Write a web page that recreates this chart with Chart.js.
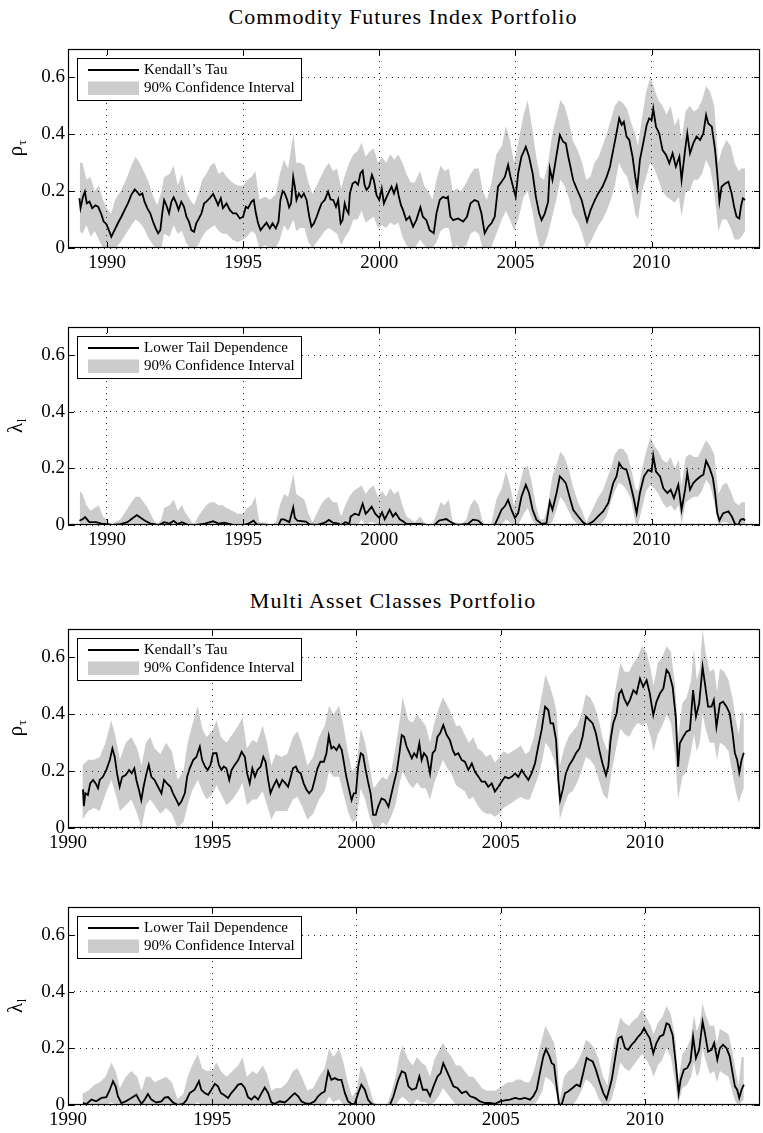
<!DOCTYPE html>
<html>
<head>
<meta charset="utf-8">
<script src="https://cdn.jsdelivr.net/npm/chart.js@4.4.1/dist/chart.umd.min.js"></script>
<style>
  html, body { margin: 0; padding: 0; background: #fff; }
  #page { position: relative; width: 763px; height: 1133px; overflow: hidden; background: #fff; }
  .title { position: absolute; width: 400px; text-align: center; font-family: "Liberation Serif", serif;
           font-size: 22px; line-height: 22px; letter-spacing: 1px; color: #000; white-space: nowrap; }
  canvas { position: absolute; left: 0; }
</style>
</head>
<body>
<div id="page">
  <div class="title" style="left:203px; top:6px;">Commodity Futures Index Portfolio</div>
  <div class="title" style="left:193px; top:590px;">Multi Asset Classes Portfolio</div>
  <canvas id="cfiTauChart"></canvas>
  <canvas id="cfiLtdChart"></canvas>
  <canvas id="macTauChart"></canvas>
  <canvas id="macLtdChart"></canvas>
</div>
<script>
// ---------- tick values ----------
const yearTicks = [1990, 1995, 2000, 2005, 2010];
const valueTicks = [0, 0.2, 0.4, 0.6];

// ---------- Commodity Futures Index portfolio: Kendall's tau ----------
const cfiTauYears = [
  1988.99,1989.03,1989.12,1989.19,1989.26,1989.36,1989.46,1989.58,1989.68,1989.79,
  1989.88,1989.98,1990.07,1990.16,1990.28,1990.4,1990.53,1990.65,1990.77,1990.89,
  1991.02,1991.1,1991.2,1991.3,1991.38,1991.48,1991.59,1991.69,1991.79,1991.88,
  1991.96,1992.03,1992.1,1992.18,1992.28,1992.37,1992.45,1992.55,1992.63,1992.73,
  1992.83,1992.92,1993.01,1993.1,1993.2,1993.28,1993.38,1993.47,1993.57,1993.65,
  1993.77,1993.9,1994.0,1994.08,1994.18,1994.26,1994.39,1994.51,1994.63,1994.75,
  1994.88,1995.0,1995.1,1995.18,1995.31,1995.39,1995.47,1995.55,1995.64,1995.74,
  1995.86,1995.98,1996.08,1996.2,1996.3,1996.37,1996.45,1996.53,1996.62,1996.69,
  1996.76,1996.84,1996.9,1996.96,1997.05,1997.14,1997.23,1997.33,1997.43,1997.51,
  1997.6,1997.7,1997.79,1997.88,1998.0,1998.12,1998.21,1998.31,1998.41,1998.49,
  1998.58,1998.65,1998.73,1998.8,1998.87,1998.92,1999.02,1999.12,1999.22,1999.31,
  1999.39,1999.46,1999.53,1999.63,1999.73,1999.8,1999.9,2000.0,2000.09,2000.17,
  2000.27,2000.37,2000.45,2000.54,2000.64,2000.72,2000.8,2000.87,2000.99,2001.11,
  2001.24,2001.36,2001.51,2001.6,2001.73,2001.85,2002.0,2002.1,2002.22,2002.34,
  2002.46,2002.52,2002.61,2002.71,2002.89,2003.08,2003.22,2003.35,2003.5,2003.63,
  2003.75,2003.87,2004.0,2004.12,2004.24,2004.36,2004.49,2004.61,2004.73,2004.82,
  2004.91,2005.01,2005.1,2005.22,2005.38,2005.5,2005.63,2005.75,2005.87,2005.96,
  2006.08,2006.2,2006.26,2006.36,2006.48,2006.63,2006.75,2006.85,2006.94,2007.02,
  2007.12,2007.27,2007.43,2007.55,2007.63,2007.76,2007.92,2008.04,2008.2,2008.35,
  2008.47,2008.59,2008.71,2008.81,2008.9,2008.98,2009.08,2009.18,2009.3,2009.4,
  2009.47,2009.57,2009.69,2009.82,2009.91,2010.0,2010.06,2010.16,2010.28,2010.4,
  2010.53,2010.65,2010.77,2010.89,2011.02,2011.1,2011.23,2011.31,2011.41,2011.53,
  2011.65,2011.78,2011.9,2012.0,2012.08,2012.21,2012.33,2012.41,2012.49,2012.57,
  2012.7,2012.82,2012.94,2013.03,2013.12,2013.22,2013.28,2013.35,2013.43
];
const cfiTau = [
  0.175,0.14,0.18,0.198,0.157,0.163,0.14,0.15,0.145,0.12,
  0.093,0.084,0.063,0.04,0.063,0.087,0.11,0.134,0.157,0.186,
  0.206,0.198,0.186,0.192,0.163,0.14,0.122,0.093,0.069,0.052,
  0.063,0.122,0.169,0.151,0.122,0.163,0.178,0.157,0.134,0.163,
  0.145,0.11,0.093,0.063,0.057,0.087,0.104,0.122,0.157,0.163,
  0.175,0.19,0.169,0.151,0.175,0.14,0.157,0.134,0.122,0.122,
  0.104,0.11,0.145,0.14,0.163,0.169,0.122,0.087,0.063,0.075,
  0.089,0.069,0.087,0.069,0.093,0.169,0.2,0.192,0.169,0.143,
  0.157,0.25,0.216,0.169,0.192,0.178,0.192,0.169,0.11,0.075,
  0.087,0.11,0.134,0.157,0.169,0.198,0.171,0.169,0.145,0.169,
  0.087,0.098,0.157,0.134,0.122,0.192,0.227,0.233,0.222,0.263,
  0.272,0.222,0.204,0.216,0.257,0.239,0.186,0.169,0.21,0.157,
  0.18,0.2,0.216,0.192,0.22,0.18,0.15,0.134,0.098,0.11,
  0.075,0.098,0.143,0.11,0.098,0.063,0.052,0.122,0.169,0.18,
  0.175,0.18,0.11,0.098,0.104,0.093,0.11,0.157,0.169,0.163,
  0.122,0.052,0.075,0.087,0.11,0.216,0.233,0.25,0.292,0.25,
  0.216,0.18,0.263,0.321,0.356,0.321,0.263,0.18,0.122,0.098,
  0.122,0.163,0.28,0.239,0.31,0.397,0.374,0.368,0.321,0.286,
  0.239,0.204,0.169,0.122,0.093,0.134,0.169,0.192,0.216,0.25,
  0.286,0.345,0.403,0.456,0.433,0.444,0.392,0.38,0.321,0.25,
  0.21,0.31,0.368,0.433,0.456,0.45,0.491,0.427,0.403,0.345,
  0.327,0.298,0.333,0.286,0.321,0.239,0.345,0.403,0.333,0.368,
  0.392,0.38,0.403,0.468,0.438,0.427,0.345,0.263,0.163,0.216,
  0.227,0.233,0.192,0.145,0.11,0.104,0.145,0.175,0.169
];

// ---------- Commodity Futures Index portfolio: lower tail dependence ----------
const cfiLtdYears = [
  1988.99,1989.1,1989.2,1989.35,1989.6,1989.8,1990.0,1990.2,1990.5,1990.75,
  1990.95,1991.1,1991.25,1991.4,1991.6,1991.9,1992.1,1992.3,1992.45,1992.6,
  1992.75,1993.0,1993.3,1993.6,1993.9,1994.1,1994.3,1994.6,1995.0,1995.2,
  1995.38,1995.5,1995.8,1996.3,1996.4,1996.5,1996.7,1996.84,1996.9,1997.0,
  1997.3,1997.45,1997.7,1998.0,1998.15,1998.3,1998.5,1998.6,1998.75,1998.9,
  1998.95,1999.1,1999.25,1999.39,1999.5,1999.6,1999.72,1999.85,2000.0,2000.1,
  2000.2,2000.38,2000.5,2000.6,2000.75,2000.87,2001.0,2001.5,2001.73,2002.03,
  2002.2,2002.46,2002.58,2002.83,2003.26,2003.44,2003.63,2003.81,2004.24,2004.36,
  2004.49,2004.61,2004.73,2004.85,2004.98,2005.1,2005.22,2005.38,2005.5,2005.63,
  2005.77,2005.96,2006.14,2006.26,2006.36,2006.51,2006.63,2006.75,2006.85,2007.0,
  2007.12,2007.3,2007.49,2007.63,2007.86,2008.04,2008.22,2008.41,2008.59,2008.71,
  2008.81,2008.93,2009.08,2009.18,2009.33,2009.45,2009.57,2009.72,2009.88,2010.0,
  2010.06,2010.16,2010.31,2010.43,2010.58,2010.7,2010.82,2010.98,2011.1,2011.23,
  2011.31,2011.41,2011.53,2011.65,2011.8,2011.9,2012.0,2012.13,2012.25,2012.33,
  2012.41,2012.49,2012.63,2012.82,2012.94,2013.06,2013.18,2013.27,2013.37,2013.43
];
const cfiLtd = [
  0.015,0.02,0.028,0.01,0.01,0.005,0.003,0,0.003,0.01,
  0.025,0.035,0.025,0.015,0.005,0,0.01,0.005,0.015,0.003,
  0.01,0,0,0.005,0.013,0.005,0.008,0.001,0,0.005,
  0.015,0.002,0,0,0.02,0.02,0.01,0.062,0.025,0.015,
  0.012,0.002,0,0.008,0.018,0.008,0.005,0,0.01,0.005,
  0.03,0.04,0.035,0.075,0.04,0.05,0.065,0.04,0.025,0.045,
  0.02,0.054,0.03,0.042,0.02,0.013,0.004,0.004,0,0,
  0.016,0.021,0.013,0,0.004,0.019,0.016,0,0,0.025,
  0.054,0.066,0.089,0.054,0.025,0.042,0.1,0.142,0.113,0.054,
  0.019,0.004,0.007,0.083,0.054,0.113,0.172,0.16,0.148,0.095,
  0.054,0.031,0.009,0,0.013,0.031,0.048,0.078,0.148,0.172,
  0.219,0.201,0.195,0.16,0.1,0.042,0.113,0.172,0.195,0.189,
  0.245,0.189,0.172,0.13,0.113,0.125,0.095,0.142,0.054,0.125,
  0.184,0.125,0.148,0.16,0.172,0.178,0.227,0.201,0.166,0.113,
  0.042,0.016,0.042,0.048,0.031,0.004,0,0.019,0.021,0.016
];

// ---------- Commodity Futures Index portfolio: 90% confidence bands ----------
const cfiBandYears = [
  1989.0,1989.1,1989.25,1989.4,1989.55,1989.7,1989.85,1990.0,1990.15,1990.3,
  1990.5,1990.7,1990.9,1991.05,1991.2,1991.35,1991.5,1991.7,1991.85,1992.0,
  1992.1,1992.3,1992.45,1992.6,1992.75,1992.9,1993.05,1993.2,1993.35,1993.5,
  1993.65,1993.8,1993.95,1994.1,1994.25,1994.4,1994.6,1994.8,1995.0,1995.15,
  1995.3,1995.45,1995.6,1995.8,1996.0,1996.2,1996.35,1996.5,1996.65,1996.85,
  1996.95,1997.1,1997.25,1997.4,1997.55,1997.7,1997.85,1998.0,1998.15,1998.3,
  1998.45,1998.6,1998.75,1998.9,1999.05,1999.2,1999.35,1999.5,1999.65,1999.8,
  1999.95,2000.1,2000.25,2000.4,2000.55,2000.7,2000.85,2001.0,2001.15,2001.3,
  2001.5,2001.65,2001.8,2001.95,2002.1,2002.25,2002.4,2002.55,2002.7,2002.85,
  2003.0,2003.2,2003.35,2003.5,2003.65,2003.8,2003.95,2004.1,2004.3,2004.5,
  2004.65,2004.8,2004.95,2005.1,2005.3,2005.45,2005.6,2005.75,2005.9,2006.05,
  2006.2,2006.35,2006.5,2006.65,2006.8,2006.95,2007.1,2007.3,2007.45,2007.6,
  2007.75,2007.9,2008.05,2008.2,2008.35,2008.5,2008.65,2008.8,2008.95,2009.1,
  2009.25,2009.4,2009.5,2009.65,2009.8,2009.95,2010.1,2010.25,2010.4,2010.55,
  2010.7,2010.85,2011.0,2011.1,2011.25,2011.4,2011.55,2011.7,2011.85,2012.0,
  2012.15,2012.3,2012.45,2012.6,2012.75,2012.9,2013.05,2013.2,2013.3,2013.43
];
const cfiTauUpper = [
  0.30,0.30,0.24,0.25,0.20,0.22,0.17,0.14,0.12,0.17,
  0.20,0.24,0.29,0.32,0.30,0.27,0.24,0.18,0.15,0.20,
  0.25,0.26,0.29,0.22,0.26,0.20,0.17,0.15,0.19,0.24,
  0.26,0.29,0.30,0.26,0.27,0.25,0.23,0.22,0.22,0.24,
  0.25,0.27,0.17,0.18,0.17,0.19,0.26,0.31,0.28,0.40,
  0.30,0.30,0.29,0.23,0.19,0.22,0.25,0.28,0.30,0.27,
  0.28,0.21,0.26,0.30,0.33,0.34,0.37,0.32,0.34,0.35,
  0.30,0.32,0.30,0.33,0.31,0.33,0.30,0.26,0.23,0.23,
  0.27,0.22,0.20,0.17,0.24,0.29,0.27,0.28,0.20,0.21,
  0.20,0.23,0.26,0.28,0.28,0.20,0.17,0.22,0.33,0.36,
  0.43,0.38,0.30,0.37,0.47,0.52,0.43,0.33,0.25,0.24,
  0.30,0.40,0.46,0.52,0.50,0.45,0.38,0.34,0.30,0.24,
  0.25,0.30,0.32,0.36,0.40,0.45,0.50,0.52,0.51,0.49,
  0.44,0.40,0.36,0.46,0.55,0.60,0.56,0.52,0.50,0.47,
  0.50,0.43,0.46,0.38,0.48,0.50,0.48,0.49,0.52,0.57,
  0.55,0.50,0.30,0.35,0.38,0.36,0.30,0.27,0.28,0.28
];
const cfiTauLower = [
  0.06,0.05,0.08,0.04,0.06,0.03,0.00,0.00,0.00,0.00,
  0.02,0.05,0.08,0.10,0.09,0.07,0.04,0.01,0.00,0.00,
  0.05,0.04,0.08,0.05,0.06,0.02,0.00,0.00,0.01,0.04,
  0.06,0.07,0.08,0.06,0.05,0.05,0.03,0.02,0.03,0.04,
  0.06,0.05,0.00,0.01,0.00,0.00,0.03,0.08,0.06,0.10,
  0.06,0.07,0.07,0.02,0.00,0.02,0.04,0.06,0.07,0.06,
  0.05,0.01,0.04,0.06,0.10,0.10,0.13,0.09,0.10,0.11,
  0.07,0.08,0.07,0.09,0.08,0.09,0.04,0.01,0.00,0.00,
  0.03,0.01,0.00,0.00,0.02,0.06,0.07,0.07,0.00,0.01,
  0.00,0.01,0.05,0.06,0.05,0.00,0.00,0.00,0.05,0.10,
  0.13,0.10,0.06,0.10,0.18,0.20,0.14,0.06,0.00,0.01,
  0.05,0.11,0.17,0.24,0.22,0.18,0.12,0.09,0.05,0.00,
  0.02,0.05,0.08,0.10,0.13,0.17,0.22,0.30,0.27,0.25,
  0.20,0.12,0.10,0.20,0.25,0.30,0.28,0.24,0.20,0.18,
  0.17,0.16,0.18,0.11,0.20,0.20,0.24,0.24,0.26,0.31,
  0.28,0.20,0.06,0.10,0.10,0.07,0.03,0.03,0.04,0.06
];
const cfiLtdUpper = [
  0.12,0.11,0.07,0.05,0.06,0.07,0.03,0.02,0.00,0.01,
  0.02,0.05,0.08,0.10,0.10,0.08,0.06,0.02,0.00,0.02,
  0.06,0.07,0.09,0.05,0.07,0.04,0.02,0.00,0.03,0.05,
  0.07,0.08,0.08,0.07,0.07,0.06,0.05,0.04,0.04,0.06,
  0.07,0.10,0.01,0.01,0.00,0.01,0.07,0.11,0.10,0.18,
  0.11,0.10,0.09,0.04,0.01,0.04,0.07,0.09,0.10,0.08,
  0.08,0.03,0.07,0.10,0.12,0.13,0.14,0.11,0.13,0.14,
  0.10,0.12,0.10,0.13,0.11,0.12,0.07,0.03,0.02,0.01,
  0.03,0.01,0.00,0.00,0.04,0.08,0.07,0.09,0.01,0.01,
  0.00,0.02,0.07,0.09,0.07,0.01,0.00,0.00,0.09,0.13,
  0.19,0.14,0.07,0.12,0.20,0.21,0.15,0.07,0.02,0.02,
  0.07,0.17,0.21,0.26,0.24,0.20,0.14,0.08,0.05,0.01,
  0.04,0.07,0.10,0.12,0.16,0.20,0.25,0.27,0.27,0.25,
  0.20,0.13,0.12,0.20,0.26,0.31,0.28,0.26,0.23,0.22,
  0.24,0.20,0.23,0.14,0.24,0.25,0.24,0.24,0.27,0.30,
  0.28,0.25,0.11,0.14,0.15,0.12,0.08,0.07,0.08,0.08
];
const cfiLtdLower = [
  0,0,0,0,0,0,0,0,0,0,
  0,0,0,0,0,0,0,0,0,0,
  0,0,0,0,0,0,0,0,0,0,
  0,0,0,0,0,0,0,0,0,0,
  0,0,0,0,0,0,0,0,0,0,
  0,0,0,0,0,0,0,0,0,0,
  0,0,0,0,0,0,0.02,0,0.01,0.01,
  0,0,0,0,0,0,0,0,0,0,
  0,0,0,0,0,0,0,0,0,0,
  0,0,0,0,0,0,0,0,0,0,
  0.02,0.01,0,0,0.04,0.06,0.02,0,0,0,
  0,0.01,0.05,0.10,0.08,0.05,0.02,0,0,0,
  0,0,0,0.01,0.03,0.08,0.12,0.15,0.14,0.12,
  0.09,0.01,0,0.06,0.12,0.14,0.13,0.11,0.08,0.06,
  0.07,0.05,0.07,0,0.08,0.09,0.10,0.10,0.12,0.16,
  0.14,0.08,0,0.01,0.01,0,0,0,0,0
];

// ---------- Multi Asset Classes portfolio: Kendall's tau ----------
const macTauYears = [
  1990.52,1990.55,1990.6,1990.69,1990.77,1990.87,1990.96,1991.04,1991.1,1991.21,
  1991.33,1991.45,1991.54,1991.62,1991.7,1991.79,1991.88,1992.0,1992.12,1992.21,
  1992.3,1992.37,1992.46,1992.54,1992.62,1992.72,1992.8,1992.89,1993.0,1993.12,
  1993.24,1993.33,1993.43,1993.55,1993.64,1993.76,1993.84,1993.93,1994.05,1994.13,
  1994.22,1994.34,1994.45,1994.57,1994.65,1994.75,1994.84,1994.94,1995.03,1995.15,
  1995.23,1995.32,1995.4,1995.49,1995.59,1995.67,1995.78,1995.9,1996.02,1996.13,
  1996.21,1996.3,1996.39,1996.48,1996.57,1996.68,1996.77,1996.85,1996.94,1997.02,
  1997.11,1997.23,1997.32,1997.43,1997.54,1997.63,1997.71,1997.8,1997.9,1997.98,
  1998.07,1998.17,1998.27,1998.36,1998.46,1998.55,1998.65,1998.75,1998.87,1998.96,
  1999.04,1999.13,1999.21,1999.31,1999.4,1999.49,1999.57,1999.65,1999.75,1999.83,
  1999.91,1999.98,2000.06,2000.15,2000.23,2000.32,2000.4,2000.49,2000.58,2000.67,
  2000.75,2000.87,2000.99,2001.11,2001.19,2001.28,2001.4,2001.49,2001.57,2001.65,
  2001.74,2001.84,2001.92,2002.0,2002.09,2002.18,2002.26,2002.34,2002.44,2002.55,
  2002.64,2002.73,2002.81,2002.9,2003.01,2003.13,2003.24,2003.34,2003.42,2003.53,
  2003.65,2003.76,2003.88,2004.0,2004.11,2004.23,2004.34,2004.46,2004.57,2004.69,
  2004.8,2004.92,2005.03,2005.15,2005.27,2005.38,2005.5,2005.61,2005.73,2005.84,
  2005.96,2006.07,2006.19,2006.3,2006.42,2006.54,2006.65,2006.73,2006.82,2006.92,
  2007.0,2007.06,2007.15,2007.26,2007.38,2007.49,2007.61,2007.73,2007.84,2007.96,
  2008.07,2008.19,2008.3,2008.42,2008.53,2008.65,2008.73,2008.81,2008.9,2009.02,
  2009.11,2009.19,2009.28,2009.39,2009.48,2009.6,2009.71,2009.83,2009.94,2010.06,
  2010.17,2010.29,2010.4,2010.52,2010.64,2010.75,2010.84,2010.96,2011.07,2011.15,
  2011.21,2011.33,2011.44,2011.56,2011.67,2011.77,2011.88,2012.0,2012.08,2012.19,
  2012.31,2012.39,2012.48,2012.6,2012.71,2012.83,2012.94,2013.04,2013.12,2013.2,
  2013.27,2013.35,2013.43
];
const macTau = [
  0.136,0.077,0.122,0.116,0.157,0.169,0.157,0.14,0.169,0.18,
  0.204,0.239,0.28,0.25,0.192,0.145,0.18,0.186,0.204,0.192,
  0.21,0.169,0.134,0.098,0.145,0.192,0.222,0.18,0.169,0.145,
  0.122,0.169,0.157,0.145,0.122,0.098,0.081,0.093,0.122,0.18,
  0.21,0.239,0.25,0.286,0.239,0.216,0.204,0.222,0.263,0.263,
  0.222,0.204,0.216,0.21,0.169,0.204,0.222,0.239,0.268,0.25,
  0.192,0.157,0.21,0.18,0.204,0.216,0.25,0.233,0.169,0.122,
  0.145,0.169,0.145,0.169,0.157,0.145,0.175,0.21,0.216,0.198,
  0.192,0.157,0.134,0.122,0.134,0.169,0.21,0.233,0.233,0.263,
  0.324,0.28,0.286,0.274,0.292,0.274,0.227,0.18,0.134,0.098,
  0.122,0.122,0.216,0.263,0.257,0.204,0.163,0.122,0.046,0.046,
  0.075,0.104,0.098,0.075,0.11,0.15,0.2,0.263,0.327,0.321,
  0.286,0.263,0.245,0.263,0.25,0.298,0.239,0.263,0.25,0.192,
  0.263,0.274,0.321,0.333,0.362,0.327,0.309,0.274,0.257,0.263,
  0.239,0.233,0.204,0.227,0.198,0.18,0.163,0.163,0.145,0.157,
  0.128,0.145,0.163,0.18,0.175,0.18,0.192,0.18,0.204,0.186,
  0.169,0.192,0.227,0.286,0.345,0.427,0.415,0.368,0.368,0.31,
  0.169,0.098,0.134,0.192,0.222,0.239,0.263,0.28,0.321,0.392,
  0.38,0.368,0.333,0.274,0.227,0.186,0.216,0.31,0.368,0.403,
  0.473,0.485,0.456,0.433,0.45,0.485,0.473,0.526,0.497,0.52,
  0.473,0.397,0.444,0.473,0.491,0.556,0.544,0.497,0.392,0.216,
  0.298,0.321,0.339,0.345,0.485,0.392,0.438,0.567,0.509,0.427,
  0.427,0.45,0.356,0.438,0.444,0.427,0.403,0.333,0.263,0.239,
  0.195,0.239,0.265
];

// ---------- Multi Asset Classes portfolio: lower tail dependence ----------
const macLtdYears = [
  1990.52,1990.65,1990.81,1990.98,1991.16,1991.33,1991.45,1991.56,1991.65,1991.73,
  1991.85,1992.0,1992.14,1992.25,1992.37,1992.46,1992.55,1992.66,1992.77,1992.89,
  1993.06,1993.24,1993.35,1993.47,1993.64,1993.82,1993.99,1994.1,1994.22,1994.39,
  1994.54,1994.62,1994.74,1994.86,1994.97,1995.09,1995.2,1995.3,1995.4,1995.55,
  1995.66,1995.78,1995.9,1996.01,1996.13,1996.24,1996.36,1996.47,1996.59,1996.71,
  1996.82,1996.94,1997.05,1997.17,1997.34,1997.51,1997.63,1997.75,1997.86,1997.98,
  1998.09,1998.21,1998.38,1998.55,1998.67,1998.79,1998.9,1999.02,1999.13,1999.25,
  1999.36,1999.48,1999.6,1999.71,1999.83,1999.94,2000.06,2000.17,2000.29,2000.4,
  2000.52,2000.64,2001.16,2001.28,2001.45,2001.57,2001.69,2001.8,2001.92,2002.07,
  2002.18,2002.3,2002.44,2002.55,2002.67,2002.81,2002.92,2003.01,2003.11,2003.24,
  2003.36,2003.5,2003.65,2003.8,2003.94,2004.11,2004.28,2004.46,2004.63,2004.8,
  2004.98,2005.15,2005.32,2005.5,2005.67,2005.84,2006.02,2006.13,2006.25,2006.36,
  2006.48,2006.57,2006.69,2006.77,2006.85,2006.94,2007.02,2007.11,2007.23,2007.34,
  2007.49,2007.63,2007.75,2007.86,2007.98,2008.07,2008.19,2008.3,2008.44,2008.56,
  2008.67,2008.76,2008.85,2008.96,2009.08,2009.19,2009.31,2009.42,2009.54,2009.65,
  2009.77,2009.88,2009.97,2010.06,2010.17,2010.29,2010.4,2010.52,2010.64,2010.75,
  2010.84,2010.96,2011.07,2011.17,2011.24,2011.35,2011.47,2011.58,2011.67,2011.77,
  2011.88,2012.0,2012.08,2012.19,2012.31,2012.4,2012.51,2012.6,2012.71,2012.83,
  2012.94,2013.04,2013.12,2013.2,2013.27,2013.35,2013.43
];
const macLtd = [
  0.007,0.004,0.019,0.013,0.025,0.028,0.054,0.084,0.066,0.031,
  0.007,0.013,0.021,0.028,0.036,0.019,0.004,0.019,0.039,0.019,
  0.009,0.013,0.026,0.028,0.009,0,0.004,0.016,0.042,0.054,
  0.084,0.054,0.042,0.036,0.054,0.075,0.066,0.042,0.036,0.025,
  0.042,0.056,0.072,0.075,0.06,0.028,0.019,0.031,0.019,0.042,
  0.062,0.042,0.009,0.004,0.013,0.009,0.019,0.031,0.042,0.031,
  0.013,0.007,0.004,0.013,0.031,0.042,0.048,0.118,0.089,0.095,
  0.089,0.089,0.042,0.013,0.004,0.004,0.042,0.072,0.054,0.019,
  0.004,0,0,0.03,0.089,0.119,0.113,0.066,0.054,0.06,
  0.101,0.054,0.054,0.031,0.066,0.101,0.113,0.148,0.125,0.095,
  0.066,0.06,0.042,0.048,0.031,0.025,0.013,0.007,0.007,0.004,
  0.013,0.016,0.019,0.025,0.021,0.025,0.019,0.031,0.054,0.113,
  0.172,0.198,0.172,0.148,0.142,0.066,0.004,0,0.042,0.048,
  0.06,0.072,0.066,0.113,0.166,0.16,0.154,0.125,0.078,0.042,
  0.021,0.054,0.089,0.16,0.236,0.242,0.201,0.195,0.213,0.225,
  0.242,0.254,0.272,0.254,0.236,0.183,0.219,0.242,0.248,0.289,
  0.284,0.248,0.148,0.042,0.089,0.125,0.131,0.154,0.242,0.166,
  0.195,0.295,0.254,0.189,0.195,0.219,0.16,0.201,0.213,0.201,
  0.172,0.113,0.066,0.054,0.025,0.054,0.072
];

// ---------- Multi Asset Classes portfolio: 90% confidence bands ----------
const macBandYears = [
  1990.5,1990.7,1990.9,1991.1,1991.3,1991.5,1991.65,1991.8,1992.0,1992.2,
  1992.4,1992.55,1992.7,1992.85,1993.0,1993.2,1993.4,1993.6,1993.8,1994.0,
  1994.15,1994.3,1994.5,1994.65,1994.8,1995.0,1995.15,1995.3,1995.5,1995.7,
  1995.9,1996.05,1996.2,1996.4,1996.55,1996.75,1996.9,1997.05,1997.2,1997.4,
  1997.6,1997.8,1997.95,1998.1,1998.3,1998.5,1998.7,1998.9,1999.05,1999.2,
  1999.4,1999.55,1999.7,1999.85,2000.0,2000.15,2000.3,2000.45,2000.6,2000.75,
  2000.9,2001.05,2001.2,2001.35,2001.5,2001.6,2001.8,2001.95,2002.1,2002.25,
  2002.4,2002.55,2002.7,2002.85,2003.0,2003.15,2003.3,2003.45,2003.6,2003.75,
  2003.9,2004.05,2004.2,2004.35,2004.5,2004.65,2004.8,2004.95,2005.1,2005.25,
  2005.4,2005.55,2005.7,2005.85,2006.0,2006.15,2006.3,2006.45,2006.55,2006.7,
  2006.85,2006.95,2007.05,2007.2,2007.35,2007.5,2007.65,2007.8,2007.95,2008.1,
  2008.25,2008.4,2008.55,2008.7,2008.85,2009.0,2009.15,2009.3,2009.45,2009.6,
  2009.75,2009.9,2010.05,2010.2,2010.3,2010.45,2010.6,2010.75,2010.9,2011.05,
  2011.15,2011.3,2011.45,2011.6,2011.7,2011.8,2011.9,2012.0,2012.1,2012.25,
  2012.4,2012.5,2012.6,2012.75,2012.9,2013.05,2013.15,2013.25,2013.35,2013.43
];
const macTauUpper = [
  0.22,0.24,0.24,0.25,0.30,0.38,0.32,0.24,0.30,0.32,
  0.28,0.22,0.30,0.32,0.28,0.26,0.30,0.27,0.17,0.20,
  0.30,0.36,0.43,0.35,0.32,0.34,0.38,0.32,0.30,0.33,
  0.36,0.39,0.28,0.31,0.30,0.36,0.30,0.22,0.26,0.25,
  0.26,0.32,0.34,0.30,0.22,0.25,0.32,0.36,0.43,0.40,
  0.43,0.36,0.27,0.20,0.22,0.35,0.30,0.22,0.14,0.16,
  0.18,0.17,0.20,0.28,0.38,0.46,0.38,0.37,0.40,0.38,
  0.36,0.30,0.37,0.42,0.46,0.43,0.40,0.36,0.36,0.33,
  0.30,0.32,0.28,0.27,0.25,0.26,0.23,0.25,0.27,0.26,
  0.27,0.28,0.29,0.26,0.27,0.32,0.40,0.48,0.54,0.50,
  0.45,0.40,0.22,0.28,0.32,0.34,0.36,0.40,0.47,0.46,
  0.43,0.38,0.31,0.27,0.41,0.50,0.58,0.55,0.55,0.58,
  0.60,0.64,0.62,0.56,0.50,0.58,0.60,0.64,0.62,0.50,
  0.32,0.44,0.46,0.52,0.63,0.52,0.56,0.70,0.62,0.55,
  0.56,0.48,0.56,0.55,0.52,0.45,0.38,0.33,0.41,0.40
];
const macTauLower = [
  0.03,0.06,0.07,0.06,0.12,0.17,0.12,0.06,0.08,0.10,
  0.05,0.00,0.08,0.10,0.08,0.05,0.07,0.05,0.00,0.02,
  0.08,0.13,0.17,0.13,0.10,0.12,0.15,0.12,0.08,0.10,
  0.13,0.16,0.08,0.10,0.10,0.13,0.08,0.03,0.06,0.06,
  0.06,0.10,0.11,0.08,0.03,0.05,0.10,0.13,0.20,0.18,
  0.18,0.12,0.06,0.02,0.03,0.14,0.10,0.04,0.00,0.00,
  0.02,0.01,0.04,0.08,0.16,0.20,0.16,0.14,0.16,0.14,
  0.14,0.10,0.16,0.20,0.24,0.21,0.19,0.15,0.14,0.13,
  0.10,0.11,0.08,0.06,0.05,0.05,0.04,0.05,0.07,0.08,
  0.09,0.10,0.11,0.10,0.10,0.14,0.18,0.24,0.30,0.28,
  0.24,0.20,0.03,0.08,0.12,0.13,0.16,0.20,0.25,0.24,
  0.22,0.17,0.12,0.10,0.20,0.28,0.35,0.33,0.32,0.35,
  0.37,0.36,0.37,0.32,0.27,0.33,0.36,0.40,0.37,0.25,
  0.10,0.18,0.20,0.27,0.33,0.27,0.30,0.40,0.35,0.30,
  0.30,0.24,0.30,0.29,0.27,0.18,0.13,0.09,0.12,0.14
];
const macLtdUpper = [
  0.04,0.05,0.07,0.08,0.10,0.15,0.12,0.06,0.10,0.12,
  0.10,0.05,0.10,0.10,0.08,0.09,0.10,0.08,0.02,0.04,
  0.10,0.14,0.18,0.13,0.12,0.12,0.15,0.12,0.10,0.12,
  0.14,0.17,0.10,0.12,0.11,0.14,0.11,0.05,0.06,0.06,
  0.08,0.12,0.13,0.10,0.05,0.06,0.10,0.13,0.20,0.17,
  0.20,0.15,0.08,0.03,0.05,0.14,0.11,0.06,0.01,0.00,
  0.00,0.00,0.04,0.10,0.18,0.21,0.16,0.14,0.17,0.15,
  0.14,0.10,0.16,0.19,0.22,0.19,0.17,0.14,0.14,0.12,
  0.10,0.10,0.08,0.06,0.05,0.05,0.05,0.06,0.07,0.08,
  0.08,0.09,0.09,0.08,0.08,0.12,0.18,0.24,0.28,0.25,
  0.22,0.16,0.02,0.10,0.12,0.13,0.15,0.18,0.23,0.22,
  0.20,0.16,0.10,0.07,0.18,0.25,0.31,0.29,0.28,0.30,
  0.31,0.34,0.31,0.28,0.25,0.29,0.31,0.35,0.32,0.24,
  0.08,0.18,0.20,0.24,0.32,0.26,0.29,0.36,0.32,0.28,
  0.28,0.22,0.27,0.26,0.25,0.18,0.12,0.07,0.17,0.17
];
const macLtdLower = [
  0,0,0,0,0,0.01,0,0,0,0,
  0,0,0,0,0,0,0,0,0,0,
  0,0,0.01,0,0,0,0,0,0,0,
  0,0,0,0,0,0,0,0,0,0,
  0,0,0,0,0,0,0,0,0.03,0.01,
  0.02,0,0,0,0,0,0,0,0,0,
  0,0,0,0,0.02,0.03,0.01,0,0.02,0.01,
  0.01,0,0.01,0.03,0.06,0.04,0.02,0,0,0,
  0,0,0,0,0,0,0,0,0,0,
  0,0,0,0,0,0,0.02,0.05,0.10,0.09,
  0.07,0.03,0,0,0,0,0.02,0.05,0.09,0.08,
  0.06,0.02,0,0,0.02,0.08,0.15,0.13,0.12,0.14,
  0.16,0.18,0.16,0.13,0.10,0.14,0.16,0.20,0.17,0.08,
  0,0.06,0.07,0.10,0.15,0.10,0.12,0.20,0.16,0.11,
  0.12,0.08,0.12,0.11,0.10,0.04,0.01,0,0.01,0.02
];

// ---------- drawing ----------
const BAND_GREY = '#cccccc';
const SERIF = '"Liberation Serif", "Times New Roman", serif';
const toPoints = (xs, ys) => xs.slice(0, Math.min(xs.length, ys.length)).map((x, i) => ({ x: x, y: ys[i] }));

// Box frame with inward ticks on all four sides, an inset legend and the rotated axis symbol.
const axesDecor = {
  id: 'axesDecor',
  afterDraw(chart, args, opts) {
    const { ctx, chartArea: a, scales: { x, y } } = chart;
    ctx.save();
    ctx.strokeStyle = '#000';
    ctx.lineWidth = 1;
    ctx.beginPath();
    x.ticks.forEach(t => {
      const px = Math.round(x.getPixelForValue(t.value)) + 0.5;
      ctx.moveTo(px, a.bottom); ctx.lineTo(px, a.bottom - 6);
      ctx.moveTo(px, a.top); ctx.lineTo(px, a.top + 6);
    });
    y.ticks.forEach(t => {
      const py = Math.round(y.getPixelForValue(t.value)) + 0.5;
      ctx.moveTo(a.left, py); ctx.lineTo(a.left + 6, py);
      ctx.moveTo(a.right, py); ctx.lineTo(a.right - 6, py);
    });
    ctx.stroke();
    ctx.lineWidth = 1.2;
    ctx.strokeRect(Math.round(a.left) + 0.5, Math.round(a.top) + 0.5,
                   Math.round(a.right - a.left) - 1, Math.round(a.bottom - a.top) - 1);

    // legend
    const lx = Math.round(a.left) + 9, ly = Math.round(a.top) + 9, lw = 224, lh = 42;
    ctx.fillStyle = '#fff';
    ctx.fillRect(lx, ly, lw, lh);
    ctx.lineWidth = 1;
    ctx.strokeRect(lx + 0.5, ly + 0.5, lw, lh);
    ctx.lineWidth = 2;
    ctx.beginPath(); ctx.moveTo(lx + 11, ly + 12); ctx.lineTo(lx + 62, ly + 12); ctx.stroke();
    ctx.fillStyle = BAND_GREY;
    ctx.fillRect(lx + 11, ly + 23.5, 51, 13.5);
    ctx.fillStyle = '#000';
    ctx.font = '15px ' + SERIF;
    ctx.textBaseline = 'middle';
    ctx.textAlign = 'left';
    ctx.fillText(opts.lineLabel, lx + 67, ly + 12);
    ctx.fillText(opts.bandLabel, lx + 67, ly + 30.5);

    // rotated axis symbol with subscript
    const cy = (a.top + a.bottom) / 2;
    ctx.translate(17, cy);
    ctx.rotate(-Math.PI / 2);
    ctx.textBaseline = 'alphabetic';
    ctx.font = '21px ' + SERIF;
    const w1 = ctx.measureText(opts.symbol).width;
    ctx.font = '13px ' + SERIF;
    const w2 = ctx.measureText(opts.sub).width;
    const x0 = -(w1 + w2) / 2;
    ctx.font = '21px ' + SERIF;
    ctx.fillText(opts.symbol, x0, 5);
    ctx.font = '13px ' + SERIF;
    ctx.fillText(opts.sub, x0 + w1 + 0.5, 9);
    ctx.restore();
  }
};

function makePanel(canvasId, plotTop, plotBottom, xMin, xMax, line, upper, lower, labels) {
  const padTop = 40, axisH = 30;
  const canvas = document.getElementById(canvasId);
  canvas.width = 763;
  canvas.height = Math.round(plotBottom - plotTop) + padTop + axisH;
  canvas.style.top = (plotTop - padTop) + 'px';
  canvas.style.width = '763px';
  canvas.style.height = canvas.height + 'px';

  new Chart(canvas, {
    type: 'line',
    data: {
      datasets: [
        { data: line, borderColor: '#000', borderWidth: 1.8, pointRadius: 0, fill: false, tension: 0 },
        { data: upper, borderColor: 'rgba(0,0,0,0)', borderWidth: 0, pointRadius: 0,
          backgroundColor: BAND_GREY, fill: '+1', tension: 0 },
        { data: lower, borderColor: 'rgba(0,0,0,0)', borderWidth: 0, pointRadius: 0, fill: false, tension: 0 }
      ]
    },
    options: {
      responsive: false,
      animation: false,
      devicePixelRatio: 1,
      parsing: true,
      events: [],
      layout: { padding: { left: 0, right: 3, top: padTop, bottom: 0 } },
      plugins: {
        legend: { display: false },
        tooltip: { enabled: false },
        axesDecor: labels
      },
      scales: {
        x: {
          type: 'linear', min: xMin, max: xMax,
          afterFit: s => { s.height = axisH; },
          afterBuildTicks: s => { s.ticks = yearTicks.map(v => ({ value: v })); },
          grid: { color: '#222', lineWidth: 1, drawTicks: false, z: 1 },
          border: { display: false, dash: [1, 5] },
          ticks: { padding: 4, color: '#000', font: { family: SERIF, size: 19 },
                   maxRotation: 0, autoSkip: false, callback: v => String(v) }
        },
        y: {
          type: 'linear', min: 0, max: 0.7,
          afterFit: s => { s.width = 68; },
          afterBuildTicks: s => { s.ticks = valueTicks.map(v => ({ value: v })); },
          grid: { color: '#222', lineWidth: 1, drawTicks: false, z: 1 },
          border: { display: false, dash: [1, 5] },
          ticks: { padding: 3, color: '#000', font: { family: SERIF, size: 19 },
                   callback: v => (v === 0 ? '0' : v.toFixed(1)) }
        }
      }
    },
    plugins: [axesDecor]
  });
}

const tauLabels = { lineLabel: 'Kendall\u2019s Tau', bandLabel: '90% Confidence Interval', symbol: '\u03C1', sub: '\u03C4' };
const ltdLabels = { lineLabel: 'Lower Tail Dependence', bandLabel: '90% Confidence Interval', symbol: '\u03BB', sub: 'l' };

makePanel('cfiTauChart', 49, 248, 1988.57, 2013.98,
  toPoints(cfiTauYears, cfiTau), toPoints(cfiBandYears, cfiTauUpper), toPoints(cfiBandYears, cfiTauLower), tauLabels);
makePanel('cfiLtdChart', 327, 525, 1988.57, 2013.98,
  toPoints(cfiLtdYears, cfiLtd), toPoints(cfiBandYears, cfiLtdUpper), toPoints(cfiBandYears, cfiLtdLower), ltdLabels);
makePanel('macTauChart', 629, 828, 1990, 2013.99,
  toPoints(macTauYears, macTau), toPoints(macBandYears, macTauUpper), toPoints(macBandYears, macTauLower), tauLabels);
makePanel('macLtdChart', 907, 1105, 1990, 2013.99,
  toPoints(macLtdYears, macLtd), toPoints(macBandYears, macLtdUpper), toPoints(macBandYears, macLtdLower), ltdLabels);
</script>
</body>
</html>
